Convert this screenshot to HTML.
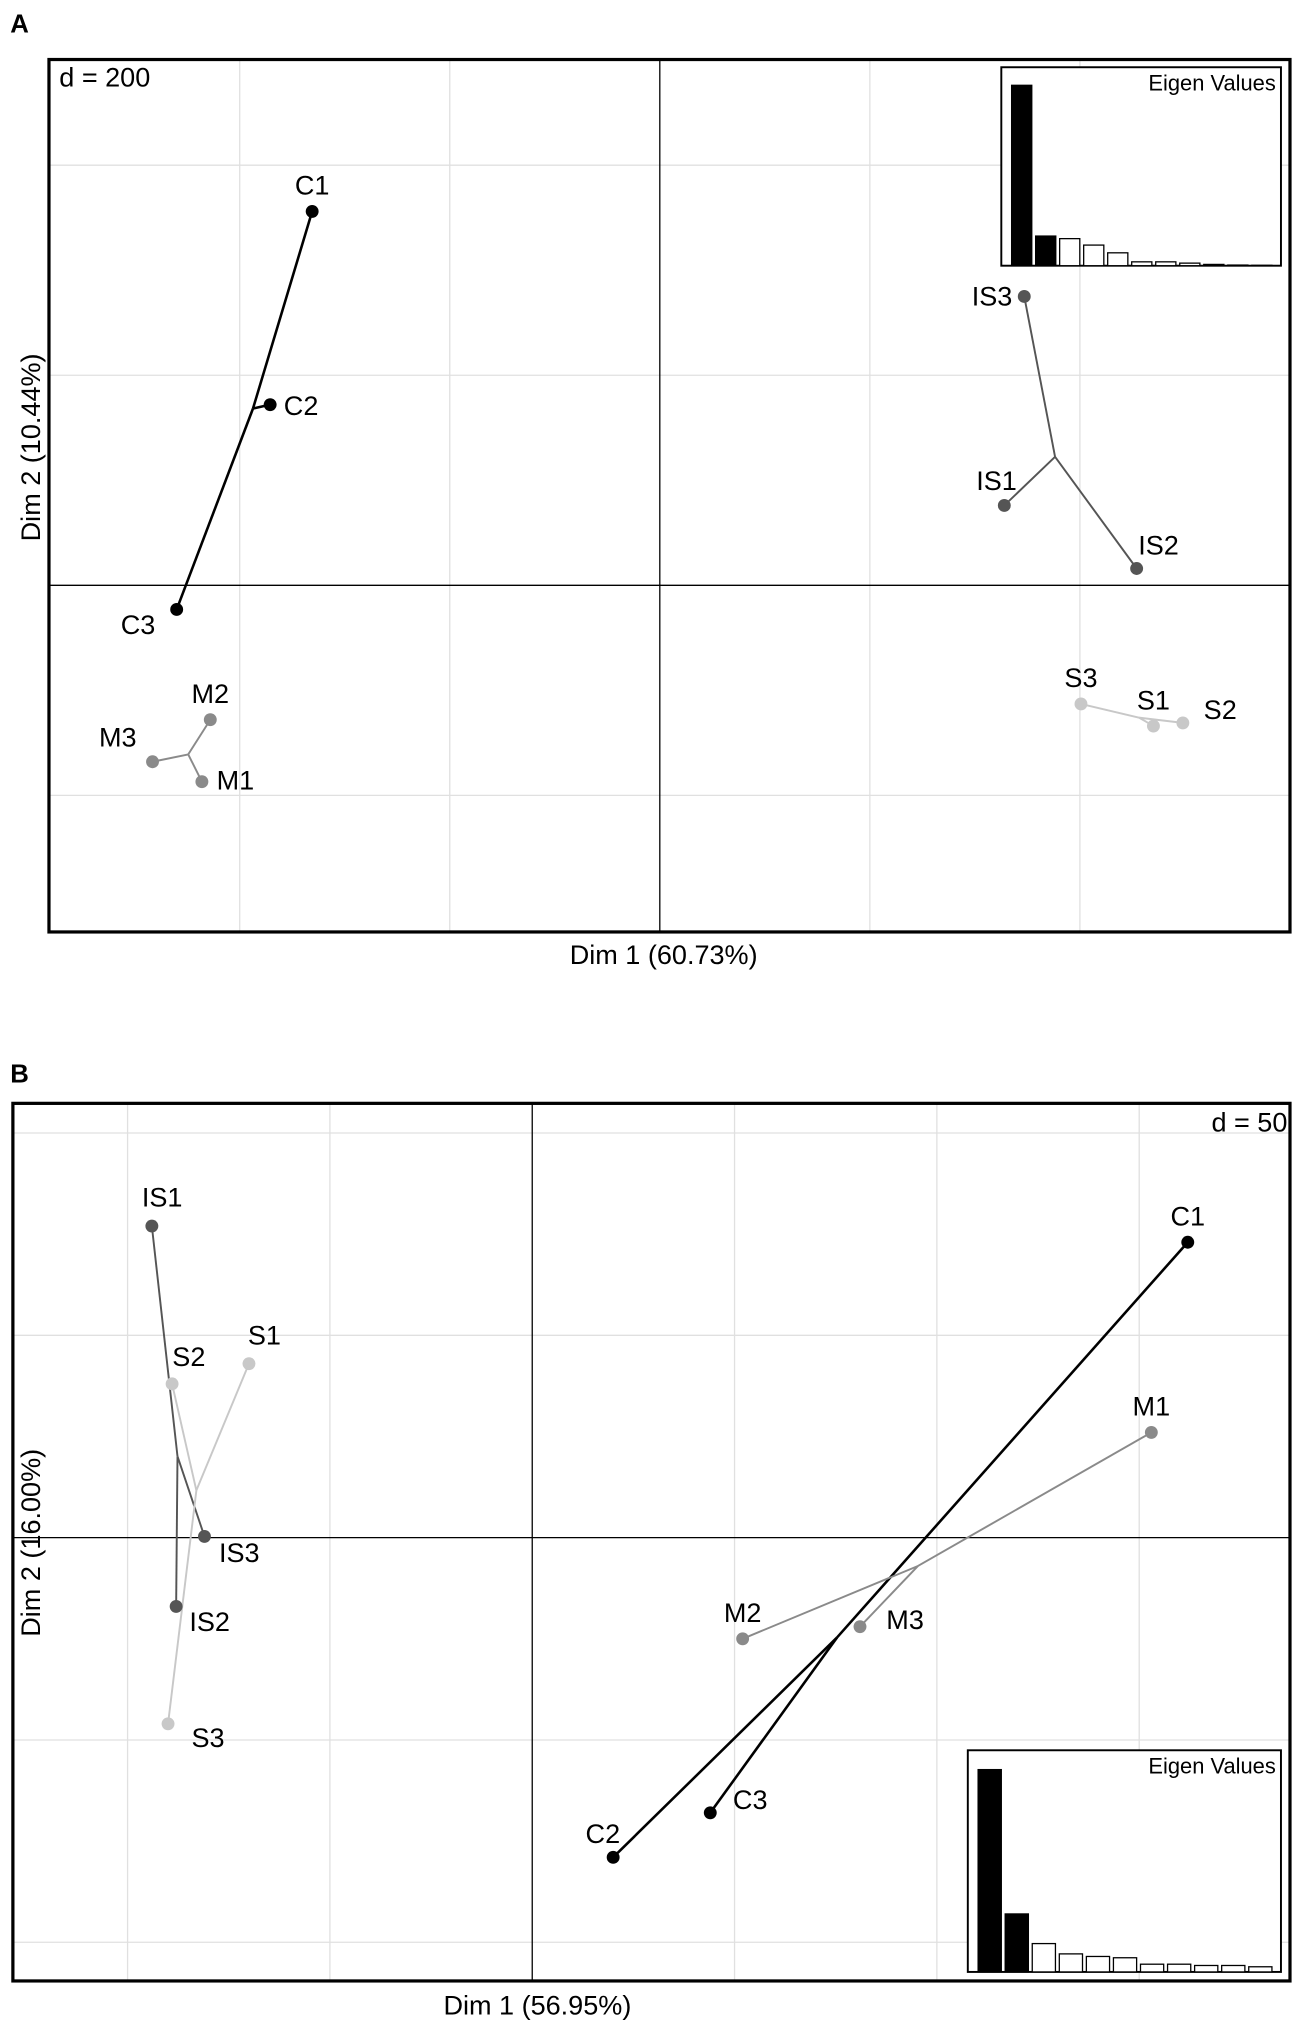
<!DOCTYPE html>
<html><head><meta charset="utf-8"><style>
html,body{margin:0;padding:0;background:#fff;}
svg{display:block;font-family:"Liberation Sans",Arial,sans-serif;}
</style></head><body>
<svg id="chart" width="1299" height="2025" viewBox="0 0 1008 1571" xmlns="http://www.w3.org/2000/svg"></svg>
<script>
// Panel A data (data units)
const labelsA = ["C1","C2","C3","M1","M2","M3","IS1","IS2","IS3","S1","S2","S3"];
const groupsA = ["C","C","C","M","M","M","IS","IS","IS","S","S","S"];
const xA = [-331,-371,-460,-436,-428,-483,328,454,347,470,498,401];
const yA = [356,172,-23,-187,-128,-168,76,16,275,-134,-131,-113];
const eigenA = [140,23,21,16,10,3,3,2,1,0.5,0.3];
// Panel B data
const labelsB = ["C1","C2","C3","M1","M2","M3","IS1","IS2","IS3","S1","S2","S3"];
const groupsB = ["C","C","C","M","M","M","IS","IS","IS","S","S","S"];
const xB = [162,20,44,153,52,81,-94,-88,-81,-70,-89,-90];
const yB = [73,-79,-68,26,-25,-22,77,-17,0.3,43,38,-46];
const eigenB = [157,45,22,14,12,11,6,6,5,5,4];

const colors = {C:"#000",M:"#8a8a8a",IS:"#555",S:"#c8c8c8"};
const svg = document.getElementById('chart');
const NS = "http://www.w3.org/2000/svg";
function mk(tag, attrs, parent){const e=document.createElementNS(NS,tag);for(const k in attrs)e.setAttribute(k,attrs[k]);(parent||svg).appendChild(e);return e;}

function panel(cfg){
  const g = mk('g',{});
  
  
  const {x0,y0,x1,y1,cx,cy,ppu} = cfg;
  const sx = v => cx + v*ppu;
  const sy = v => cy - v*ppu;
  cfg.gridX.forEach(v=>{const l=mk('line',{x1:sx(v),x2:sx(v),y1:y0,y2:y1,stroke:'#e0e0e0','stroke-width':1},g);
    
    });
  cfg.gridY.forEach(v=>{const l=mk('line',{x1:x0,x2:x1,y1:sy(v),y2:sy(v),stroke:'#e0e0e0','stroke-width':1},g);
    
    });
  const ax1=mk('line',{x1:sx(0),x2:sx(0),y1:y0,y2:y1,stroke:'#000','stroke-width':1},g);
  
  
  const ax2=mk('line',{x1:x0,x2:x1,y1:sy(0),y2:sy(0),stroke:'#000','stroke-width':1},g);
  
  
  ['C','M','IS','S'].forEach(grp=>{
    const idx = cfg.groups.map((gg,i)=>gg===grp?i:-1).filter(i=>i>=0);
    const mx = idx.reduce((a,i)=>a+cfg.xs[i],0)/idx.length;
    const my = idx.reduce((a,i)=>a+cfg.ys[i],0)/idx.length;
    idx.forEach(i=>{
      const l=mk('line',{x1:sx(mx),y1:sy(my),x2:sx(cfg.xs[i]),y2:sy(cfg.ys[i]),stroke:colors[grp],'stroke-width':grp==='C'?2:1.5},g);
      
      
    });
  });
  cfg.labels.forEach((lab,i)=>{
    const c=mk('circle',{cx:sx(cfg.xs[i]),cy:sy(cfg.ys[i]),r:5,fill:colors[cfg.groups[i]]},g);
    
    
    const off = cfg.offs[lab];
    const t=mk('text',{x:sx(cfg.xs[i])+off[0],y:sy(cfg.ys[i])+off[1],'font-size':21,'text-anchor':'middle',fill:'#000'},g);
    t.textContent=lab;
    
    
  });
  const fr=mk('rect',{x:x0,y:y0,width:x1-x0,height:y1-y0,fill:'none',stroke:'#000','stroke-width':2.5},g);
  
  
  const b=cfg.inset;
  const ir=mk('rect',{x:b.x0,y:b.y0,width:b.x1-b.x0,height:b.y1-b.y0,fill:'#fff',stroke:'#000','stroke-width':1.5},g);
  
  
  const it=mk('text',{x:b.x1-4,y:b.y0+18,'font-size':17,'text-anchor':'end'},g);
  it.textContent='Eigen Values';
  
  
  const bw=(b.x1-b.x0-12)/cfg.eigen.length;
  cfg.eigen.forEach((v,i)=>{
    const r=mk('rect',{x:b.x0+8+i*bw,y:b.y1-v,width:bw-3,height:v,fill:i<2?'#000':'#fff',stroke:'#000','stroke-width':1},g);
    
    
  });
  return {g,sx,sy};
}

const lblA={C1:[0,-13],C2:[24,8],C3:[-30,19],M1:[26,6],M2:[0,-13],M3:[-27,-12],IS1:[-6,-12],IS2:[17,-11],IS3:[-25,7],S1:[0,-13],S2:[29,-3],S3:[0,-13]};
panel({name:'panel-a',x0:38,y0:46,x1:1001,y1:723,cx:512,cy:454,ppu:163/200,
  gridX:[-400,-200,200,400],gridY:[400,200,-200],
  labels:labelsA,groups:groupsA,xs:xA,ys:yA,eigen:eigenA,offs:lblA,
  inset:{x0:777,y0:52,x1:994,y1:206}});
const lblB={C1:[0,-13],C2:[-8,-11],C3:[31,-3],M1:[0,-13],M2:[0,-13],M3:[35,2],IS1:[8,-15],IS2:[26,19],IS3:[27,20],S1:[12,-15],S2:[13,-14],S3:[31,18]};
panel({name:'panel-b',x0:10,y0:856,x1:1001,y1:1537,cx:413,cy:1193,ppu:157/50,
  gridX:[-100,-50,50,100,150],gridY:[100,50,-50,-100],
  labels:labelsB,groups:groupsB,xs:xB,ys:yB,eigen:eigenB,offs:lblB,
  inset:{x0:751,y0:1358,x1:994,y1:1530}});

function txt(s,attrs,name){const t=mk('text',attrs);t.textContent=s;return t;}
txt('A',{x:8,y:25,'font-size':20,'font-weight':'bold'},'panel-a-letter');
txt('d = 200',{x:46,y:67,'font-size':21},'panel-a-scale');
txt('Dim 1 (60.73%)',{x:515,y:748,'font-size':21,'text-anchor':'middle'},'panel-a-x-title');
txt('Dim 2 (10.44%)',{x:0,y:0,'font-size':21,'text-anchor':'middle',transform:'translate(31,347) rotate(-90)'},'panel-a-y-title');
txt('B',{x:8,y:840,'font-size':20,'font-weight':'bold'},'panel-b-letter');
txt('d = 50',{x:999,y:878,'font-size':21,'text-anchor':'end'},'panel-b-scale');
txt('Dim 1 (56.95%)',{x:417,y:1563,'font-size':21,'text-anchor':'middle'},'panel-b-x-title');
txt('Dim 2 (16.00%)',{x:0,y:0,'font-size':21,'text-anchor':'middle',transform:'translate(31,1197) rotate(-90)'},'panel-b-y-title');
</script>
</body></html>
